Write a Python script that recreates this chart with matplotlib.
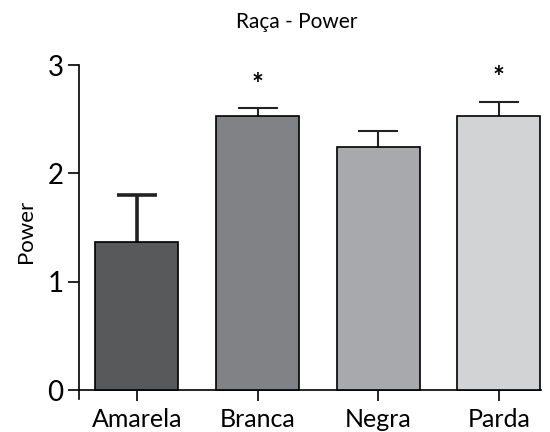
import matplotlib
matplotlib.use("Agg")
import matplotlib.pyplot as plt

plt.rcParams['font.family'] = ['Lato', 'DejaVu Sans']

# data
groups = ['Amarela', 'Branca', 'Negra', 'Parda']
means = [1.37, 2.53, 2.24, 2.53]
errors = [0.43, 0.07, 0.15, 0.13]
significant = [False, True, False, True]
colors = ['#58595b', '#808285', '#a7a9ac', '#d1d3d4']

fig = plt.figure(figsize=(5.5, 4.32), dpi=100)
ax = fig.add_axes([0.1436, 0.0771, 0.84, 0.7724])

x = range(len(groups))
ax.bar(x, means, width=0.69, color=colors, edgecolor='black', linewidth=1.2, zorder=3)

for i, (m, e) in enumerate(zip(means, errors)):
    lw = 2.6 if i == 0 else 1.5
    _, caps, _ = ax.errorbar(i, m, yerr=[[0], [e]], fmt='none', ecolor='#222222',
                             elinewidth=lw, capsize=14.5, capthick=lw, zorder=2)
    # only the upper cap, like the reference
    caps[0].set_visible(False)
    if significant[i]:
        ax.text(i, m + e + 0.22, '*', ha='center', va='center',
                fontsize=20, fontweight='bold')

ax.set_xlim(-0.48, 3.35)
ax.set_ylim(-0.08, 3)
ax.set_yticks([0, 1, 2, 3])
ax.set_xticks(list(x))
ax.set_xticklabels(groups)
ax.tick_params(axis='y', labelsize=20, length=8, width=1.2, pad=3)
ax.tick_params(axis='x', labelsize=18, length=8, width=1.2, pad=5)

ax.spines['top'].set_visible(False)
ax.spines['right'].set_visible(False)
ax.spines['bottom'].set_position(('data', 0))
ax.spines['left'].set_linewidth(1.2)
ax.spines['bottom'].set_linewidth(1.2)

ax.set_ylabel('Power', fontsize=16, labelpad=8)
fig.text(0.54, 0.95, 'Raça - Power', ha='center', va='center', fontsize=15)

fig.savefig('out.png', dpi=100)
